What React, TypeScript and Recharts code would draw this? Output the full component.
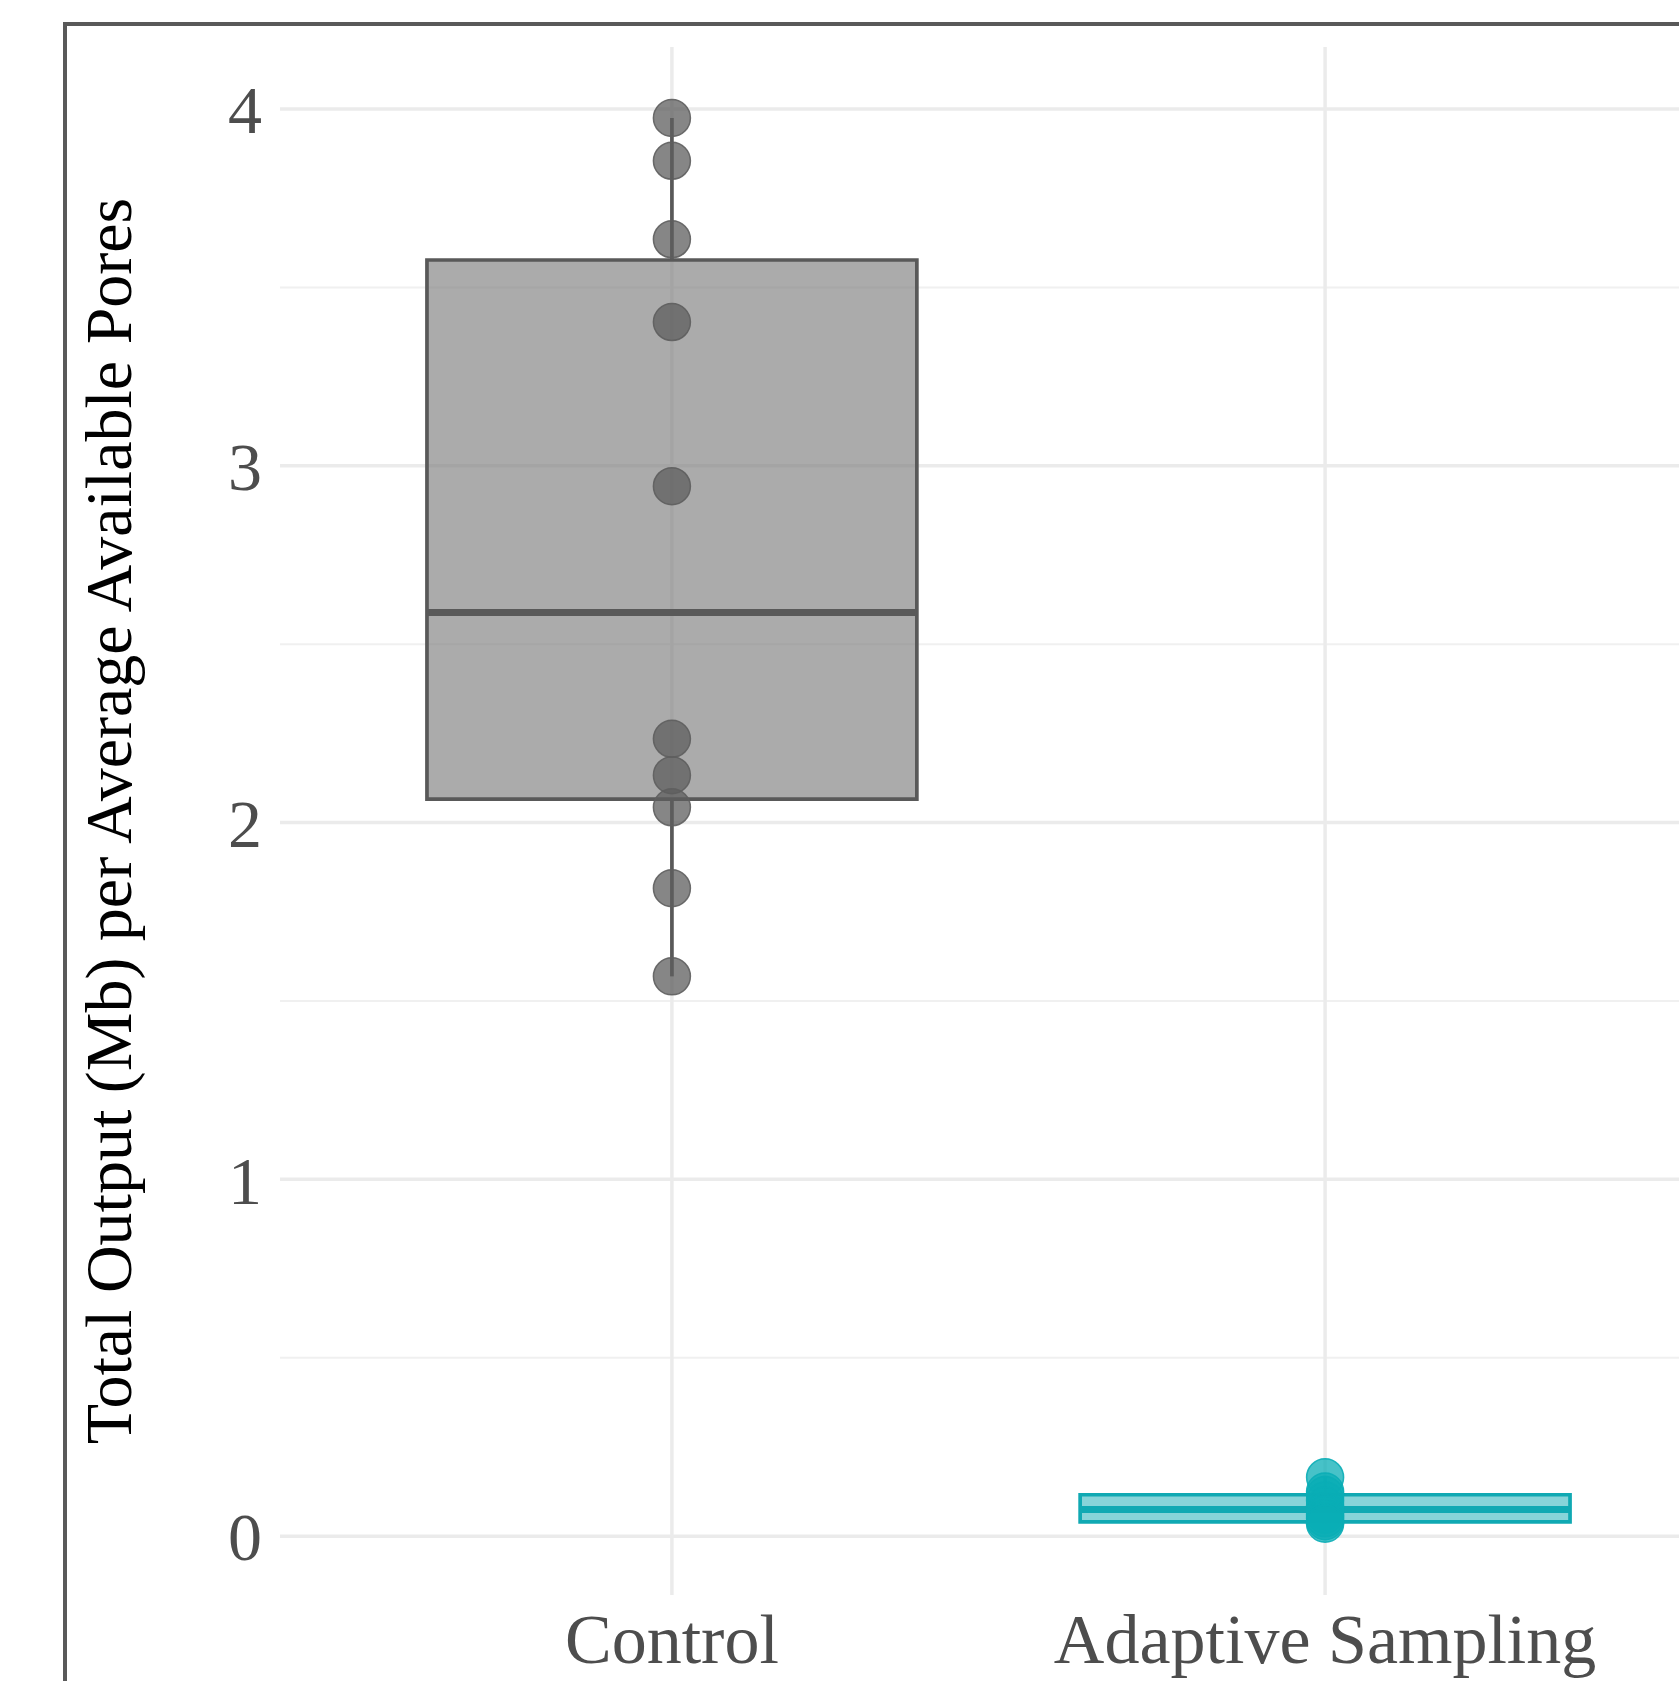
import React from "react";
import {
  ComposedChart,
  Scatter,
  XAxis,
  YAxis,
  CartesianGrid,
  ReferenceArea,
  ReferenceLine,
} from "recharts";

// categories sit at x = 1, 2 on a numeric axis
const groups = ["Control", "Adaptive Sampling"];
const groupPos = [1, 2];

const controlValues = [3.975, 3.855, 3.635, 3.403, 2.943, 2.235, 2.133, 2.043, 1.816, 1.569];
const adaptiveValues = [0.165, 0.125, 0.115, 0.1, 0.085, 0.07, 0.06, 0.05, 0.042, 0.035];

// box stats per group (Control, Adaptive Sampling)
const boxMin = [1.569, 0.035];
const boxQ1 = [2.066, 0.04];
const boxMedian = [2.589, 0.075];
const boxQ3 = [3.577, 0.116];
const boxMax = [3.975, 0.165];

const yTicks = [0, 1, 2, 3, 4];
const yMinor = [0.5, 1.5, 2.5, 3.5];

const COLORS = ["#595959", "#10a9b3"];
const BOX_FILL = ["#808080", "#10a9b3"];
const BOX_FILL_OPACITY = [0.66, 0.5];
const POINT_FILL = ["#5e5e5e", "#0aadb6"];
const FONT = '"Liberation Serif", "Times New Roman", serif';

const HALF_WIDTH = 0.375;

const controlData = controlValues.map((y) => ({ x: groupPos[0], y }));
const adaptiveData = adaptiveValues.map((y) => ({ x: groupPos[1], y }));

const dot = (i: number) => (props: any) =>
  (
    <circle
      cx={props.cx}
      cy={props.cy}
      r={18.5}
      fill={POINT_FILL[i]}
      fillOpacity={0.75}
      stroke={POINT_FILL[i]}
      strokeOpacity={0.9}
      strokeWidth={1.5}
    />
  );

const YTitle = (props: any) => {
  const vb = props.viewBox;
  const cy = vb.y + vb.height / 2;
  return (
    <text
      x={131}
      y={cy}
      transform={`rotate(-90, 131, ${cy})`}
      textAnchor="middle"
      fontFamily={FONT}
      fontSize={66}
      fill="#000"
    >
      Total Output (Mb) per Average Available Pores
    </text>
  );
};

export default function App() {
  return (
    <div
      style={{
        position: "absolute",
        left: 0,
        top: 0,
        width: 1679,
        height: 1681,
        overflow: "hidden",
        background: "#fff",
      }}
    >
      <div
        style={{
          position: "absolute",
          left: 63,
          top: 22,
          width: 2000,
          height: 2000,
          borderTop: "4px solid #595959",
          borderLeft: "4px solid #595959",
        }}
      />
      <div style={{ position: "absolute", left: 0, top: 0 }}>
        <ComposedChart
          width={1760}
          height={1681}
          margin={{ top: 47, right: 43, bottom: 0, left: 0 }}
        >
          <CartesianGrid
            horizontalValues={yMinor}
            vertical={false}
            stroke="#f0f0f0"
            strokeWidth={2}
          />
          <CartesianGrid
            horizontalValues={yTicks}
            verticalValues={groupPos}
            stroke="#ebebeb"
            strokeWidth={3.5}
          />
          <XAxis
            type="number"
            dataKey="x"
            domain={[0.4, 2.6]}
            ticks={groupPos}
            tickFormatter={(v: number) => groups[groupPos.indexOf(v)] ?? ""}
            height={86}
            axisLine={false}
            tickLine={false}
            tickSize={0}
            tickMargin={18}
            tick={{ fontFamily: FONT, fontSize: 70, fill: "#4d4d4d" }}
            allowDataOverflow
          />
          <YAxis
            type="number"
            dataKey="y"
            domain={[-0.165, 4.174]}
            ticks={yTicks}
            width={280}
            axisLine={false}
            tickLine={false}
            tickSize={0}
            tickMargin={18}
            tick={{ fontFamily: FONT, fontSize: 68, fill: "#4d4d4d" }}
            label={<YTitle />}
            allowDataOverflow
          />
          {groupPos.map((x, i) => (
            <ReferenceArea
              key={`box-${i}`}
              x1={x - HALF_WIDTH}
              x2={x + HALF_WIDTH}
              y1={boxQ1[i]}
              y2={boxQ3[i]}
              fill={BOX_FILL[i]}
              fillOpacity={BOX_FILL_OPACITY[i]}
              stroke={COLORS[i]}
              strokeWidth={3.7}
            />
          ))}
          {groupPos.map((x, i) => (
            <ReferenceLine
              key={`med-${i}`}
              segment={[
                { x: x - HALF_WIDTH, y: boxMedian[i] },
                { x: x + HALF_WIDTH, y: boxMedian[i] },
              ]}
              stroke={COLORS[i]}
              strokeWidth={7}
            />
          ))}
          {groupPos.map((x, i) => (
            <ReferenceLine
              key={`wlo-${i}`}
              segment={[
                { x, y: boxMin[i] },
                { x, y: boxQ1[i] },
              ]}
              stroke={COLORS[i]}
              strokeWidth={3.7}
            />
          ))}
          {groupPos.map((x, i) => (
            <ReferenceLine
              key={`whi-${i}`}
              segment={[
                { x, y: boxQ3[i] },
                { x, y: boxMax[i] },
              ]}
              stroke={COLORS[i]}
              strokeWidth={3.7}
            />
          ))}
          <Scatter
            data={controlData}
            shape={dot(0)}
            isAnimationActive={false}
          />
          <Scatter
            data={adaptiveData}
            shape={dot(1)}
            isAnimationActive={false}
          />
        </ComposedChart>
      </div>
    </div>
  );
}
